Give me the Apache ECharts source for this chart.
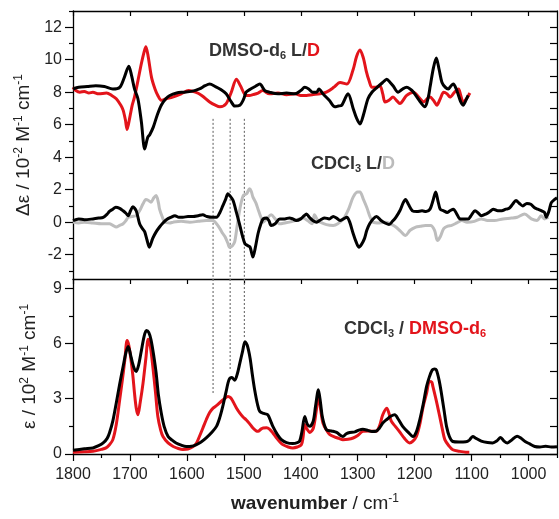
<!DOCTYPE html>
<html>
<head>
<meta charset="utf-8">
<script src="https://cdn.jsdelivr.net/npm/echarts@6/dist/echarts.min.js"></script>
<style>
html,body{margin:0;padding:0;background:#fff;}
#c{width:559px;height:519px;}
</style>
</head>
<body>
<div id="c"></div>
<script>
// ---------- DATA ----------
const xMajor = [1800, 1700, 1600, 1500, 1400, 1300, 1200, 1100, 1000];
const xMinor = [1750, 1650, 1550, 1450, 1350, 1250, 1150, 1050, 950];
const yTopMajor = [-2, 0, 2, 4, 6, 8, 10, 12];
const yTopMinor = [-3, -1, 1, 3, 5, 7, 9, 11, 13];
const yBotMajor = [0, 3, 6, 9];
const yBotMinor = [1.5, 4.5, 7.5];

// CD in DMSO-d6 (offset by +8): L (black) / D (red)
const dmsoCdL = [[1800,8.2],[1790,8.3],[1775,8.35],[1760,8.4],[1745,8.35],[1730,8.2],[1718,8.3],[1710,8.9],[1702,9.6],[1697,9.0],[1692,8.2],[1686,7.6],[1680,6.2],[1674,4.5],[1669,5.2],[1665,5.4],[1659,5.85],[1652,6.6],[1645,7.2],[1637,7.6],[1630,7.8],[1618,7.95],[1607,8.0],[1592,8.05],[1578,8.2],[1568,8.4],[1560,8.5],[1550,8.35],[1542,8.2],[1531,7.9],[1522,7.4],[1516,7.15],[1507,7.2],[1500,7.6],[1496,8.0],[1488,8.2],[1480,8.35],[1472,8.5],[1463,8.1],[1455,8.0],[1440,7.9],[1425,7.95],[1410,7.9],[1400,8.1],[1393,8.3],[1386,8.2],[1379,8.0],[1372,8.0],[1368,8.2],[1361,7.9],[1350,7.5],[1340,7.1],[1334,7.15],[1328,7.2],[1317,7.9],[1308,7.0],[1302,6.4],[1296,6.05],[1290,6.6],[1282,7.6],[1275,8.0],[1266,8.3],[1256,8.6],[1249,8.8],[1243,8.6],[1238,8.4],[1229,8.0],[1221,8.2],[1214,8.3],[1208,8.2],[1202,8.0],[1192,7.5],[1182,7.1],[1176,7.7],[1173,8.3],[1167,9.5],[1162,10.1],[1157,9.4],[1152,8.6],[1146,8.3],[1141,8.2],[1136,8.4],[1132,8.5],[1127,8.2],[1123,7.8],[1119,7.4],[1115,7.2],[1110,7.5],[1106,7.8]];
const dmsoCdD = [[1800,8.3],[1795,8.1],[1788,8.0],[1780,8.05],[1772,7.95],[1765,8.0],[1755,7.9],[1741,7.95],[1732,7.8],[1724,7.6],[1716,7.2],[1712,6.9],[1708,6.3],[1705,5.7],[1700,6.5],[1696,7.2],[1692,7.7],[1686,8.7],[1680,9.75],[1675,10.5],[1672,10.8],[1668,10.2],[1662,8.9],[1656,8.2],[1651,7.8],[1645,7.5],[1636,7.6],[1625,7.7],[1610,7.9],[1597,8.1],[1585,8.0],[1574,7.8],[1560,7.4],[1550,7.2],[1542,7.1],[1531,7.3],[1522,8.0],[1513,8.8],[1506,8.4],[1496,7.8],[1490,7.8],[1484,7.85],[1475,7.95],[1467,8.1],[1455,7.9],[1440,7.95],[1425,7.85],[1410,7.9],[1400,7.8],[1390,7.8],[1380,7.85],[1366,7.9],[1355,8.0],[1342,8.3],[1331,8.6],[1319,8.5],[1308,9.4],[1302,10.2],[1296,10.6],[1290,10.1],[1285,9.3],[1280,8.7],[1275,8.3],[1268,8.3],[1261,8.4],[1256,7.9],[1252,7.4],[1245,7.5],[1238,7.7],[1232,7.5],[1226,7.3],[1214,7.8],[1202,8.0],[1193,7.7],[1184,7.4],[1178,7.6],[1173,7.7],[1167,7.5],[1161,7.2],[1155,7.6],[1149,8.0],[1143,7.9],[1138,7.7],[1130,8.0],[1123,8.2],[1119,7.8],[1115,7.4],[1109,7.6],[1103,7.95]];

// CD in CDCl3: L (black) / D (grey)
const cdclCdL = [[1800,0.1],[1790,0.2],[1780,0.15],[1765,0.2],[1755,0.25],[1747,0.3],[1740,0.5],[1736,0.66],[1730,0.8],[1725,0.92],[1718,0.85],[1712,0.7],[1707,0.55],[1703,0.4],[1699,0.7],[1695,0.95],[1689,0.7],[1683,-0.1],[1678,-0.4],[1674,-0.6],[1670,-1.1],[1666,-1.54],[1660,-1.0],[1654,-0.6],[1648,-0.3],[1642,-0.05],[1636,0.15],[1628,0.3],[1621,0.4],[1614,0.3],[1607,0.3],[1598,0.35],[1589,0.35],[1580,0.4],[1572,0.45],[1565,0.35],[1555,0.3],[1548,0.3],[1542,0.6],[1537,1.0],[1532,1.4],[1528,1.75],[1524,1.6],[1519,1.35],[1513,0.6],[1507,-0.2],[1502,-0.9],[1498,-1.33],[1493,-1.45],[1489,-1.54],[1484,-2.15],[1480,-1.6],[1475,-0.7],[1470,-0.1],[1466,0.2],[1460,0.26],[1456,0.1],[1452,-0.2],[1445,-0.1],[1437,0.2],[1428,0.2],[1420,0.26],[1414,0.2],[1408,0.1],[1400,0.2],[1394,0.4],[1390,0.5],[1385,0.3],[1379,0.1],[1372,0.0],[1365,0.15],[1358,0.26],[1350,0.2],[1343,0.35],[1337,0.25],[1331,0.1],[1325,0.2],[1319,0.3],[1314,0.0],[1308,-0.7],[1303,-1.2],[1298,-1.54],[1293,-1.35],[1288,-1.0],[1284,-0.5],[1279,-0.1],[1273,0.2],[1267,0.35],[1259,0.1],[1252,-0.05],[1245,-0.15],[1239,0.05],[1233,0.3],[1226,0.7],[1220,1.2],[1216,1.4],[1211,1.1],[1204,0.7],[1196,0.65],[1187,0.7],[1180,0.65],[1173,0.8],[1168,1.3],[1163,1.85],[1159,1.3],[1155,0.8],[1149,0.7],[1143,0.6],[1138,0.7],[1132,0.8],[1126,0.5],[1120,0.2],[1113,0.2],[1106,0.2],[1100,0.45],[1094,0.7],[1088,0.55],[1083,0.4],[1075,0.5],[1068,0.65],[1062,0.8],[1054,0.7],[1047,0.7],[1040,0.8],[1034,0.85],[1028,1.1],[1022,1.33],[1016,1.15],[1010,1.0],[1003,1.15],[996,1.1],[990,0.9],[984,0.8],[977,0.7],[972,0.6],[969,0.3],[964,0.7],[960,1.2],[954,1.4],[950,1.5]];
const cdclCdD = [[1800,0.0],[1790,-0.05],[1780,0.0],[1765,-0.05],[1750,-0.1],[1736,-0.1],[1730,-0.2],[1724,-0.3],[1718,-0.2],[1712,-0.1],[1707,0.1],[1703,0.3],[1696,0.35],[1689,0.4],[1683,0.7],[1677,1.13],[1672,1.4],[1668,1.35],[1663,1.23],[1658,1.5],[1654,1.64],[1650,1.2],[1648,0.8],[1643,0.3],[1639,0.0],[1630,-0.05],[1624,0.0],[1610,0.05],[1595,0.0],[1580,0.05],[1566,0.1],[1554,0.1],[1548,-0.1],[1542,-0.4],[1537,-0.7],[1533,-0.9],[1528,-1.3],[1525,-1.54],[1520,-1.45],[1516,-1.2],[1512,-0.3],[1507,0.8],[1501,1.64],[1495,1.75],[1490,2.05],[1487,1.9],[1484,1.54],[1479,1.2],[1475,0.8],[1470,0.3],[1466,0.0],[1460,0.2],[1452,0.45],[1445,0.2],[1437,-0.1],[1428,-0.05],[1420,0.0],[1410,0.1],[1396,0.26],[1388,0.1],[1380,-0.1],[1376,0.45],[1370,0.1],[1366,0.0],[1355,-0.15],[1343,-0.2],[1335,-0.1],[1325,0.2],[1316,0.8],[1308,1.54],[1300,1.85],[1296,1.85],[1290,1.4],[1284,0.9],[1278,0.3],[1273,0.0],[1262,-0.05],[1250,0.0],[1240,-0.15],[1233,-0.3],[1225,-0.55],[1216,-0.82],[1208,-0.5],[1198,-0.3],[1190,-0.25],[1181,-0.2],[1172,-0.2],[1165,-0.5],[1160,-1.13],[1155,-0.9],[1149,-0.4],[1142,-0.25],[1135,-0.2],[1126,-0.05],[1117,0.1],[1108,0.0],[1095,0.05],[1083,0.2],[1072,0.1],[1060,0.1],[1045,0.2],[1030,0.25],[1020,0.3],[1007,0.5],[995,0.2],[985,0.1],[978,0.4],[972,0.2],[965,0.3]];

// IR absorbance: CDCl3 (black) / DMSO-d6 (red)
const irCdcl = [[1800,0.2],[1780,0.28],[1765,0.33],[1755,0.45],[1747,0.6],[1740,0.85],[1736,1.14],[1730,1.8],[1724,2.77],[1718,3.8],[1712,4.75],[1707,5.5],[1703,5.84],[1699,5.4],[1696,5.0],[1692,4.6],[1689,4.48],[1685,4.8],[1680,5.6],[1675,6.4],[1671,6.7],[1667,6.6],[1663,6.2],[1658,5.3],[1654,4.4],[1650,3.2],[1645,2.22],[1640,1.5],[1633,0.95],[1626,0.75],[1619,0.6],[1610,0.48],[1601,0.41],[1592,0.42],[1584,0.5],[1575,0.65],[1566,0.87],[1557,1.15],[1548,1.5],[1542,2.0],[1537,2.58],[1531,3.4],[1526,4.03],[1521,4.15],[1516,4.0],[1511,4.4],[1507,4.93],[1502,5.6],[1498,6.1],[1494,5.9],[1489,5.2],[1485,4.3],[1481,3.49],[1476,2.7],[1472,2.31],[1465,2.2],[1458,2.13],[1453,1.8],[1449,1.5],[1441,1.05],[1434,0.78],[1425,0.62],[1414,0.57],[1406,0.62],[1402,0.7],[1398,1.2],[1393,2.04],[1389,1.65],[1384,1.5],[1378,1.8],[1374,2.6],[1369,3.49],[1365,2.7],[1362,2.0],[1355,1.32],[1346,1.25],[1337,1.17],[1330,1.0],[1326,0.95],[1320,1.1],[1314,1.17],[1305,1.2],[1298,1.3],[1291,1.35],[1282,1.28],[1275,1.22],[1268,1.23],[1262,1.4],[1256,1.68],[1248,1.9],[1242,2.05],[1235,2.13],[1229,1.9],[1221,1.5],[1212,1.2],[1203,0.95],[1197,1.2],[1191,1.86],[1185,2.7],[1179,3.67],[1174,4.2],[1169,4.57],[1165,4.62],[1162,4.57],[1157,4.0],[1153,3.3],[1148,2.3],[1144,1.5],[1139,0.95],[1133,0.68],[1122,0.65],[1110,0.66],[1104,0.75],[1098,0.95],[1092,0.85],[1083,0.7],[1072,0.62],[1063,0.6],[1056,0.7],[1049,0.9],[1043,0.7],[1037,0.6],[1030,0.75],[1020,0.97],[1013,0.85],[1006,0.68],[998,0.55],[989,0.41],[980,0.38],[970,0.42],[960,0.38],[950,0.4]];
const irDmso = [[1800,0.1],[1780,0.12],[1765,0.15],[1750,0.25],[1742,0.33],[1736,0.5],[1730,0.78],[1724,1.6],[1718,2.94],[1713,4.1],[1709,5.1],[1705,6.16],[1702,5.9],[1699,5.3],[1695,4.3],[1692,3.3],[1689,2.5],[1686,2.13],[1682,2.8],[1677,3.85],[1672,5.2],[1668,6.23],[1664,5.8],[1660,4.8],[1655,3.3],[1651,2.04],[1646,1.3],[1642,0.95],[1633,0.6],[1624,0.41],[1615,0.3],[1607,0.25],[1598,0.27],[1589,0.4],[1583,0.6],[1578,0.95],[1572,1.4],[1566,1.86],[1560,2.25],[1554,2.49],[1547,2.65],[1540,2.85],[1534,3.0],[1528,3.12],[1523,3.05],[1519,2.85],[1513,2.5],[1507,2.22],[1501,2.0],[1496,1.86],[1490,1.65],[1484,1.41],[1478,1.25],[1475,1.23],[1470,1.35],[1466,1.41],[1460,1.42],[1455,1.35],[1449,1.14],[1442,0.85],[1435,0.6],[1431,0.5],[1422,0.38],[1414,0.33],[1406,0.38],[1399,0.5],[1396,0.9],[1393,1.6],[1389,1.35],[1384,1.17],[1378,1.4],[1373,2.3],[1369,3.2],[1365,2.4],[1361,1.68],[1355,1.3],[1349,1.05],[1340,0.92],[1333,0.85],[1326,0.78],[1317,0.8],[1308,0.87],[1300,1.0],[1291,1.23],[1280,1.25],[1268,1.23],[1262,1.5],[1256,2.13],[1249,2.49],[1245,2.2],[1241,1.78],[1234,1.5],[1227,1.23],[1218,0.85],[1209,0.6],[1203,0.7],[1197,0.95],[1191,1.6],[1185,2.58],[1179,3.3],[1174,3.94],[1170,3.9],[1168,3.67],[1162,2.9],[1156,2.04],[1151,1.3],[1147,0.78],[1140,0.45],[1133,0.23],[1122,0.15],[1110,0.1],[1104,0.1]];

// dotted guide lines
const guideWn = [1554, 1524, 1499];
const guideTopStart = 6.36;
const guideBotEnd = [3.3, 4.57, 6.3];

// ---------- CHART ----------
const FONT = '"Liberation Sans", Arial, sans-serif';
const TXT = '#222';
const X0 = 950, X1 = 1800;
const T0 = -3.5, T1 = 13;
const B0 = 0, B1 = 9.5;
const axisLineStyle = {color: '#000', width: 1.3};
const plainNum = function (v) { return String(v); };

function xAxisDef(grid, pos, opts) {
  return Object.assign({
    type: 'value', gridIndex: grid, position: pos, min: X0, max: X1, inverse: true,
    splitLine: {show: false},
    axisLine: {show: true, onZero: false, lineStyle: axisLineStyle},
    axisTick: {show: false},
    axisLabel: {show: false},
    minorTick: {show: false}
  }, opts);
}
function yAxisDef(grid, pos, mn, mx, opts) {
  return Object.assign({
    type: 'value', gridIndex: grid, position: pos, min: mn, max: mx,
    splitLine: {show: false},
    axisLine: {show: true, onZero: false, lineStyle: axisLineStyle},
    axisTick: {show: false},
    axisLabel: {show: false},
    minorTick: {show: false}
  }, opts);
}
const tickStyle = {color: '#000', width: 1.2};
const labelStyle = {color: TXT, fontSize: 16, fontFamily: FONT, formatter: plainNum};
const nameRich = {
  sup: {fontSize: 12, fontFamily: FONT, color: TXT, padding: [0, 0, 10, 0]},
  b: {fontSize: 19, fontFamily: FONT, color: TXT, fontWeight: 'bold'}
};

const xAxes = [
  xAxisDef(0, 'top', {axisTick: {show: true, inside: true, length: 5, customValues: xMajor, lineStyle: tickStyle}}),
  xAxisDef(1, 'bottom', {
    axisTick: {show: true, inside: false, length: 7, customValues: xMajor, lineStyle: tickStyle},
    axisLabel: Object.assign({show: true, margin: 13, customValues: xMajor}, labelStyle),
    name: '{b|wavenumber} / cm{sup|-1}', nameLocation: 'middle', nameGap: 39,
    nameTextStyle: {fontSize: 19, fontFamily: FONT, color: TXT, rich: nameRich}
  }),
  xAxisDef(1, 'bottom', {axisLine: {show: false, onZero: false}, axisTick: {show: true, inside: false, length: 4, customValues: xMinor, lineStyle: tickStyle}}),
  xAxisDef(1, 'top', {axisTick: {show: true, inside: true, length: 5, customValues: xMajor, lineStyle: tickStyle}})
];

const yAxes = [
  yAxisDef(0, 'left', T0, T1, {
    axisTick: {show: true, inside: false, length: 8, customValues: yTopMajor, lineStyle: tickStyle},
    axisLabel: Object.assign({show: true, margin: 11, customValues: yTopMajor}, labelStyle),
    name: 'Δε / 10{sup|-2} M{sup|-1} cm{sup|-1}', nameLocation: 'middle', nameRotate: 90, nameGap: 32,
    nameTextStyle: {fontSize: 19, fontFamily: FONT, color: TXT, rich: nameRich}
  }),
  yAxisDef(0, 'left', T0, T1, {axisLine: {show: false, onZero: false}, axisTick: {show: true, inside: false, length: 4, customValues: yTopMinor, lineStyle: tickStyle}}),
  yAxisDef(0, 'right', T0, T1, {axisTick: {show: true, inside: true, length: 7, customValues: yTopMajor.concat(yTopMinor), lineStyle: tickStyle}}),
  yAxisDef(1, 'left', B0, B1, {
    axisTick: {show: true, inside: false, length: 8, customValues: yBotMajor, lineStyle: tickStyle},
    axisLabel: Object.assign({show: true, margin: 11, customValues: yBotMajor}, labelStyle),
    name: 'ε / 10{sup|2} M{sup|-1} cm{sup|-1}', nameLocation: 'middle', nameRotate: 90, nameGap: 32,
    nameTextStyle: {fontSize: 19, fontFamily: FONT, color: TXT, rich: nameRich}
  }),
  yAxisDef(1, 'left', B0, B1, {axisLine: {show: false, onZero: false}, axisTick: {show: true, inside: false, length: 4, customValues: yBotMinor, lineStyle: tickStyle}}),
  yAxisDef(1, 'right', B0, B1, {axisTick: {show: true, inside: true, length: 7, customValues: yBotMajor.concat(yBotMinor), lineStyle: tickStyle}})
];

function lineSeries(data, color, xi, yi, z) {
  return {type: 'line', data: data, xAxisIndex: xi, yAxisIndex: yi, showSymbol: false, symbol: 'none',
    smooth: 0.3, lineStyle: {color: color, width: 3}, z: z, silent: true};
}
const RED = '#e3141b', BLACK = '#000', GREY = '#bdbdbd';
const series = [];
guideWn.forEach(function (w, i) {
  series.push({type: 'line', xAxisIndex: 0, yAxisIndex: 0, data: [[w, guideTopStart], [w, T0]], symbol: 'none',
    lineStyle: {color: '#777', width: 1.2, type: [2, 2]}, z: 1, silent: true});
  series.push({type: 'line', xAxisIndex: 1, yAxisIndex: 3, data: [[w, B1], [w, guideBotEnd[i]]], symbol: 'none',
    lineStyle: {color: '#777', width: 1.2, type: [2, 2]}, z: 1, silent: true});
});
series.push(lineSeries(dmsoCdD, RED, 0, 0, 3));
series.push(lineSeries(dmsoCdL, BLACK, 0, 0, 4));
series.push(lineSeries(cdclCdD, GREY, 0, 0, 3));
series.push(lineSeries(cdclCdL, BLACK, 0, 0, 4));
series.push(lineSeries(irDmso, RED, 1, 3, 3));
series.push(lineSeries(irCdcl, BLACK, 1, 3, 4));

const annRich = {
  k: {fontSize: 18, fontWeight: 'bold', fontFamily: FONT, fill: '#333', color: '#333'},
  ks: {fontSize: 11, fontWeight: 'bold', fontFamily: FONT, fill: '#333', color: '#333', padding: [9, 0, 0, 0]},
  r: {fontSize: 18, fontWeight: 'bold', fontFamily: FONT, fill: RED, color: RED},
  rs: {fontSize: 11, fontWeight: 'bold', fontFamily: FONT, fill: RED, color: RED, padding: [9, 0, 0, 0]},
  g: {fontSize: 18, fontWeight: 'bold', fontFamily: FONT, fill: '#bbb', color: '#bbb'}
};

const chart = echarts.init(document.getElementById('c'), null, {renderer: 'canvas'});
chart.setOption({
  animation: false,
  backgroundColor: '#fff',
  grid: [
    {left: 73, right: 2, top: 11, height: 268, outerBoundsMode: 'none', containLabel: false},
    {left: 73, right: 2, top: 279, height: 175, outerBoundsMode: 'none', containLabel: false}
  ],
  xAxis: xAxes,
  yAxis: yAxes,
  series: series,
  graphic: [
    {type: 'text', left: 209, top: 42, style: {text: '{k|DMSO-d}{ks|6}{k| L/}{r|D}', rich: annRich}},
    {type: 'text', left: 311, top: 155, style: {text: '{k|CDCl}{ks|3}{k| L/}{g|D}', rich: annRich}},
    {type: 'text', left: 344, top: 320, style: {text: '{k|CDCl}{ks|3}{k| / }{r|DMSO-d}{rs|6}', rich: annRich}}
  ]
});
</script>
</body>
</html>
